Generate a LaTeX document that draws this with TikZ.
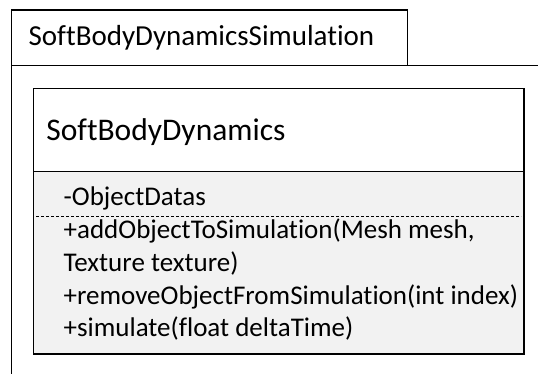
\documentclass[tikz,border=0pt]{standalone}
\usepackage{fontspec}
\setmainfont[Ligatures=NoCommon]{Carlito}
\begin{document}
\begin{tikzpicture}[x=1pt,y=-1pt,line width=1.3pt,
    member/.style={anchor=base west,inner sep=0pt,font=\fontsize{27}{32}\selectfont}]
    \useasboundingbox(0,0)rectangle(538,374);
    % package tab and frame
    \draw(11.5,65.7)rectangle(407.5,10);
    \node[anchor=base west,inner sep=0pt,font=\fontsize{29}{34}\selectfont](pkg)at(28,46){SoftBodyDynamicsSimulation};
    \draw(11.5,380)--(11.5,65.7)--(545,65.7);
    % class box
    \draw[fill=white](33.7,88.5)rectangle(524,171.7);
    \draw[fill=black!5](33.7,171.7)rectangle(524,354);
    \node[anchor=base west,inner sep=0pt,font=\fontsize{31.5}{37}\selectfont](cls)at(45.7,140.7){SoftBodyDynamics};
    \node[member](attr)at(63,205.5){-ObjectDatas};
    \draw[line width=0.9pt,dash pattern=on 3pt off 2pt](36,216)--(521,216);
    \node[member](add)at(63,238){+addObjectToSimulation(Mesh mesh,};
    \node[member](tex)at(63,271){Texture texture)};
    \node[member](rem)at(63,304){+removeObjectFromSimulation(int index)};
    \node[member](sim)at(63,336){+simulate(float deltaTime)};
\end{tikzpicture}
\end{document}
